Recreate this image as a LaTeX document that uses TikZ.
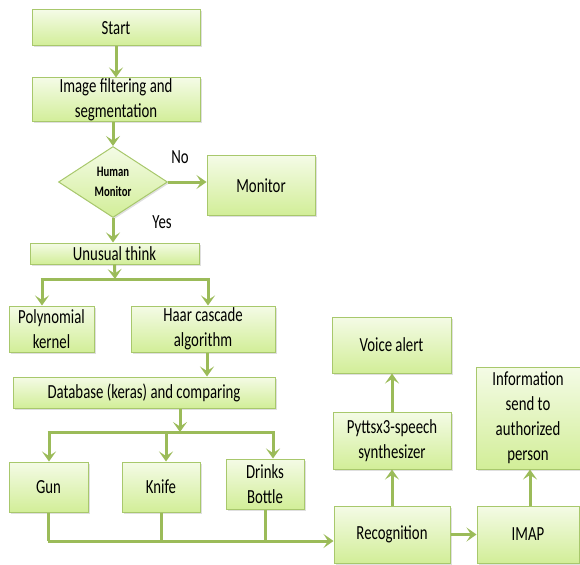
\documentclass[tikz,border=0pt]{standalone}
\usepackage{fontspec}
\setmainfont{Carlito}[FakeStretch=0.74]
\usetikzlibrary{shapes.geometric,arrows.meta,shadows}
\definecolor{edgegreen}{HTML}{A8C86C}
\definecolor{arrgreen}{HTML}{9BBB59}
\definecolor{topfill}{HTML}{F4FBE6}
\definecolor{botfill}{HTML}{D2EE98}
\begin{document}
\begin{tikzpicture}[x=1pt,y=-1pt,
  box/.style={draw=edgegreen, line width=1pt, top color=topfill, bottom color=botfill,
    inner sep=0pt, align=center, font=\fontsize{20}{25}\selectfont,
    drop shadow={shadow xshift=1.5pt, shadow yshift=-1.5pt, opacity=0.25}},
  dia/.style={box, shape=diamond, font=\fontsize{14.5}{20}\selectfont\bfseries},
  arr/.style={draw=arrgreen, line width=3pt, -{Stealth[length=10pt,width=14pt,inset=4.5pt]}},
  ln/.style={draw=arrgreen, line width=3pt},
  lbl/.style={font=\fontsize{20}{25}\selectfont, inner sep=0pt}]
\useasboundingbox (0,0) rectangle (580,564);
\node[box, minimum width=168pt, minimum height=36pt] (start) at (116,28) {Start};
\node[box, minimum width=168pt, minimum height=44pt] (filt) at (116,100) {Image filtering and\\segmentation};
\node[dia, minimum width=109pt, minimum height=71pt, aspect=1.535] (dec) at (113,182) {Human\\Monitor};
\node[box, minimum width=108pt, minimum height=59pt] (mon) at (261,185.5) {Monitor};
\node[box, minimum width=169pt, minimum height=21pt] (unu) at (114.5,253.5) {Unusual think};
\node[box, minimum width=85pt, minimum height=46pt] (poly) at (51.5,329) {Polynomial\\kernel};
\node[box, minimum width=144pt, minimum height=46pt] (haar) at (203,329) {Haar cascade\\algorithm};
\node[box, minimum width=262pt, minimum height=31pt] (db) at (144,392.5) {Database (keras) and comparing};
\node[box, minimum width=79pt, minimum height=50pt] (gun) at (48.5,487) {Gun};
\node[box, minimum width=78pt, minimum height=50pt] (knife) at (161,487) {Knife};
\node[box, minimum width=78pt, minimum height=50pt] (drinks) at (265,484) {Drinks\\Bottle};
\node[box, minimum width=116pt, minimum height=57pt] (recog) at (392,534.5) {Recognition};
\node[box, minimum width=102pt, minimum height=57pt] (imap) at (528,534.5) {IMAP};
\node[box, minimum width=118pt, minimum height=57pt] (pytt) at (392,440.5) {Pyttsx3-speech\\synthesizer};
\node[box, minimum width=119pt, minimum height=56pt] (voice) at (391.5,345) {Voice alert};
\node[box, minimum width=104pt, minimum height=102pt] (info) at (528,418) {Information\\send to\\authorized\\person};
\node[lbl] (no) at (180,157) {No};
\node[lbl] (yes) at (162,222) {Yes};
% connectors
\draw[arr] (start.south) -- (filt.north);
\draw[arr] ([xshift=-3pt]filt.south) -- (dec.north);
\draw[arr] (dec.east) -- (dec.east -| mon.west);
\draw[arr] (dec.south) -- (dec.south |- unu.north);
\coordinate (s1) at (115,279);
\coordinate (s1l) at (42,279);
\coordinate (s1r) at (208,279);
\draw[arr] (unu.south) -- (s1);
\draw[ln] ([xshift=-1.5pt]s1l) -- ([xshift=1.5pt]s1r);
\draw[arr] (s1l) -- (s1l |- poly.north);
\draw[arr] (s1r) -- (s1r |- haar.north);
\draw[arr] ([xshift=4pt]haar.south) -- ([xshift=4pt]haar.south |- db.north);
\coordinate (s2) at (180,432);
\coordinate (s2l) at (49,432);
\coordinate (s2m) at (166,432);
\coordinate (s2r) at (273,432);
\draw[arr] (s2 |- db.south) -- (s2);
\draw[ln] ([xshift=-1.5pt]s2l) -- ([xshift=1.5pt]s2r);
\draw[arr] (s2l) -- (s2l |- gun.north);
\draw[arr] (s2m) -- (s2m |- knife.north);
\draw[arr] (s2r) -- (s2r |- drinks.north);
\coordinate (b1) at (49,541);
\draw[ln] (gun.south) -- (gun.south |- b1);
\draw[ln] (knife.south) -- (knife.south |- b1);
\draw[ln] (drinks.south) -- (drinks.south |- b1);
\draw[arr] ([xshift=-1.5pt]b1) -- (b1 -| recog.west);
\draw[arr] (recog.east) -- (imap.west);
\draw[arr] (recog.north) -- (pytt.south);
\draw[arr] (pytt.north) -- (voice.south -| pytt.north);
\draw[arr] ([xshift=2pt]imap.north) -- ([xshift=2pt]info.south);
\end{tikzpicture}
\end{document}
